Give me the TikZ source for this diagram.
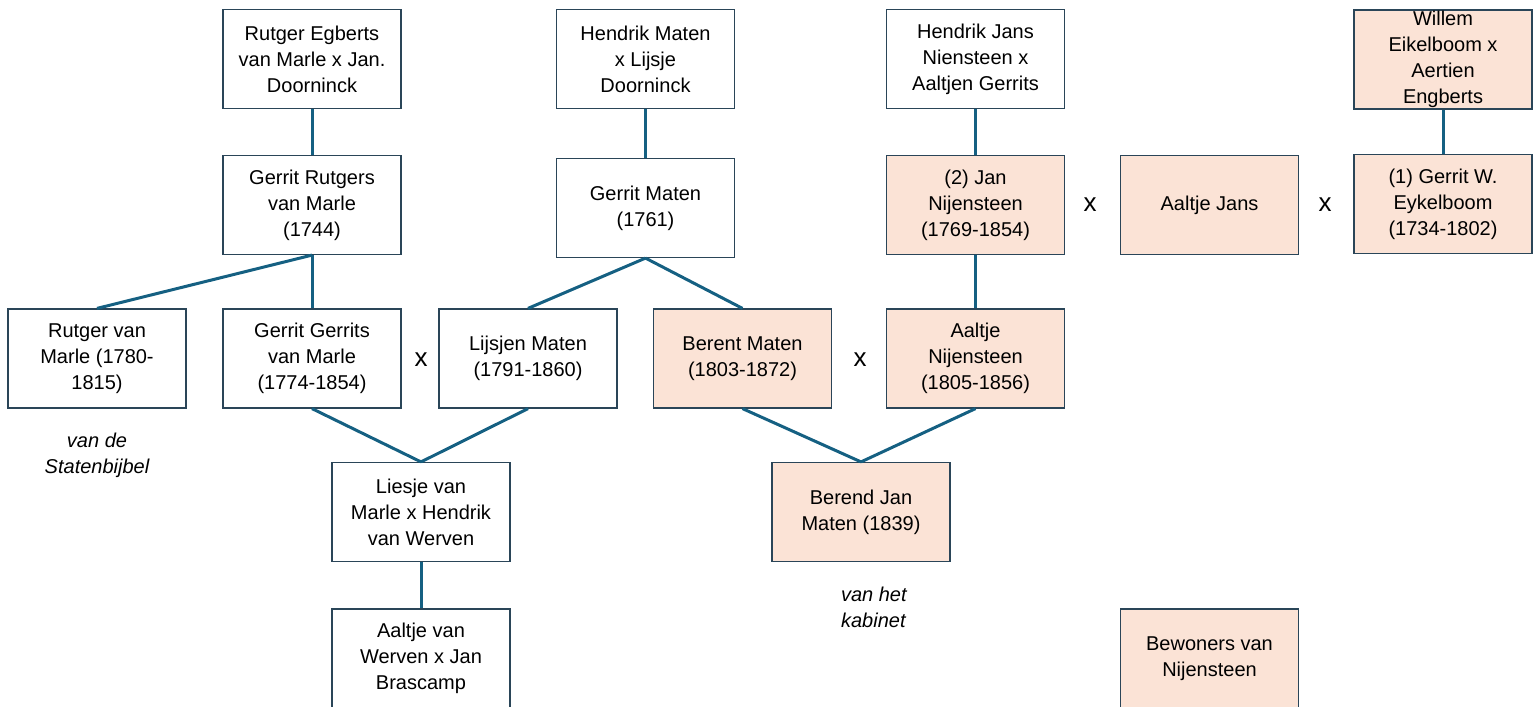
\documentclass[tikz,border=0pt]{standalone}
\usepackage{fontspec}
\setmainfont{Liberation Sans}
\usepackage{tikz}
\usetikzlibrary{calc}
\definecolor{linkblue}{HTML}{156082}
\definecolor{boxline}{HTML}{2A4558}
\definecolor{peach}{HTML}{FBE3D6}
\tikzset{person/.style={rectangle, draw=boxline, line width=.6pt, fill=white,
    minimum width=89pt, minimum height=49.5pt, inner sep=0pt, align=center,
    font=\fontsize{10}{13}\selectfont}}
\tikzset{resident/.style={person, fill=peach}}
\tikzset{link/.style={draw=linkblue, line width=1.5pt}}
\tikzset{marriage/.style={font=\fontsize{13}{13}\selectfont}}
\tikzset{note/.style={font=\fontsize{10}{13}\selectfont\itshape}}

\begin{document}
\begin{tikzpicture}[x=.5pt,y=-.5pt]
  \useasboundingbox (0,0) rectangle (1534,706);
  \foreach \lab/\x/\y/\txt in {
    A/312/59/{Rutger Egberts\\van Marle x Jan.\\Doorninck},
    B/645.5/59/{Hendrik Maten\\x Lijsje\\Doorninck},
    C/975.5/59/{Hendrik Jans\\Niensteen x\\Aaltjen Gerrits},
    E/312/205/{Gerrit Rutgers\\van Marle\\(1744)},
    F/645.5/208/{Gerrit Maten\\(1761)},
    J/97/358.5/{Rutger van\\Marle (1780-\\1815)},
    K/312/358.5/{Gerrit Gerrits\\van Marle\\(1774-1854)},
    L/528/358.5/{Lijsjen Maten\\(1791-1860)},
    O/421/512/{Liesje van\\Marle x Hendrik\\van Werven},
    Q/421/658.5/{Aaltje van\\Werven x Jan\\Brascamp}%
  } {
    \node[person] (\lab) at (\x, \y) {\txt};
  }
  \foreach \lab/\x/\y/\txt in {
    D/1443/59.5/{Willem\\Eikelboom x\\Aertien\\Engberts},
    G/975.5/205/{(2) Jan\\Nijensteen\\(1769-1854)},
    H/1209.5/205/{Aaltje Jans},
    I/1443/204/{(1) Gerrit W.\\Eykelboom\\(1734-1802)},
    M/742.5/358.5/{Berent Maten\\(1803-1872)},
    N/975.5/358.5/{Aaltje\\Nijensteen\\(1805-1856)},
    P/861/512/{Berend Jan\\Maten (1839)},
    R/1209.5/658.5/{Bewoners van\\Nijensteen}%
  } {
    \node[resident] (\lab) at (\x, \y) {\txt};
  }
  % x between partners
  \foreach \lab/\x/\y in {x1/421/360, x2/860/360, x3/1090/205, x4/1325/205} {
    \node[marriage] (\lab) at (\x, \y) {x};
  }
  \node[note, align=center] (bible) at (97,455) {van de\\Statenbijbel};
  \node[note, align=left, anchor=west] (cabinet) at (834,607) {van het\\kabinet};
  \begin{scope}[every edge/.append style={link}]
    \foreach \u/\v in {
      A/E,
      B/F,
      C/G,
      D/I,
      E/J,
      E/K,
      F/L,
      F/M,
      G/N,
      K/O,
      L/O,
      M/P,
      N/P,
      O/Q%
    }{
      \draw (\u.south) edge (\v.north);
    }
  \end{scope}
\end{tikzpicture}
\end{document}
